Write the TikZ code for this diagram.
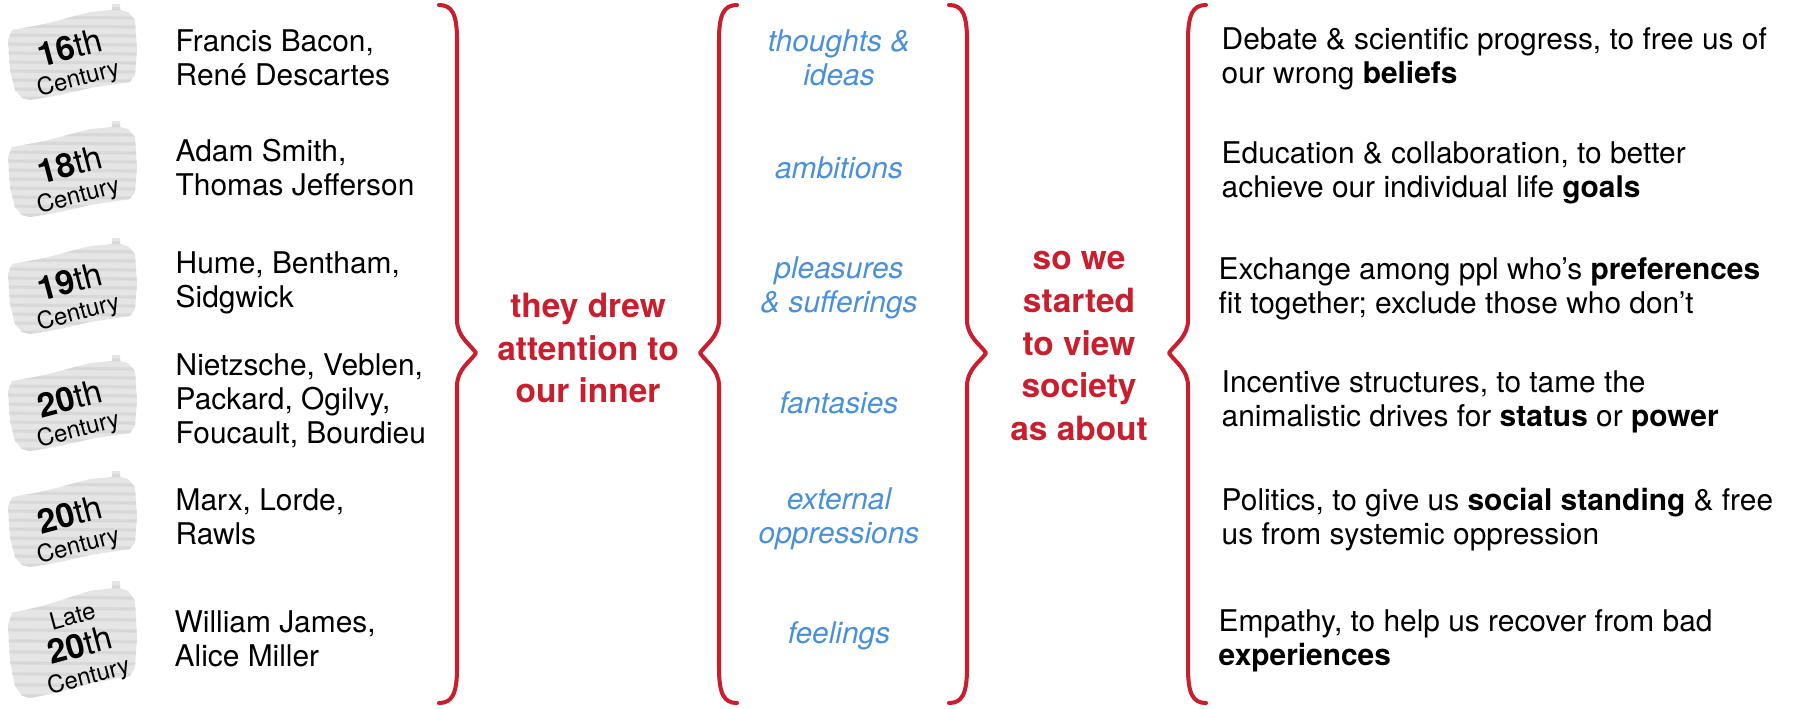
\documentclass[tikz,border=0pt]{standalone}
\usepackage{fontspec}
\setmainfont{TeX Gyre Heros}
\usetikzlibrary{positioning}

\definecolor{braceRed}{RGB}{200,30,45}
\definecolor{ideaBlue}{RGB}{74,144,217}
\definecolor{badgeGray}{RGB}{229,229,229}
\definecolor{streakGray}{RGB}{216,216,216}

\tikzset{
  thinkers/.style={anchor=west,align=left,inner sep=0pt,font=\fontsize{8.5}{9.7}\selectfont},
  remedy/.style={anchor=west,align=left,inner sep=0pt,font=\fontsize{8.5}{9.7}\selectfont},
  innerlife/.style={align=center,inner sep=0pt,text=ideaBlue,font=\fontsize{8.5}{9.7}\selectfont\itshape},
  claim/.style={align=center,inner sep=0pt,text=braceRed,font=\fontsize{9.5}{12.2}\selectfont\bfseries},
  badgetext/.style={align=center,inner sep=0pt,rotate=15,font=\fontsize{6.8}{8}\selectfont},
  bracket/.style={draw=braceRed,line width=1.15pt,line join=round,line cap=round},
}
\newcommand{\cent}[1]{{\fontsize{9.5}{9.5}\selectfont\textbf{#1}th}}

\begin{document}
\begin{tikzpicture}[x=0.01cm,y=-0.01cm]
\useasboundingbox (0,0) rectangle (1798,708);

% century badges: grey scribble + rotated label
\foreach \y/\s/\tx/\ty/\lbl [count=\i] in {
    54/1/74/63/{\cent{16}\\Century},
    171/1/74/180/{\cent{18}\\Century},
    288/1/74/297/{\cent{19}\\Century},
    405/1/74/414/{\cent{20}\\Century},
    521/1/74/530/{\cent{20}\\Century},
    642/1.22/81/648/{Late\\[1.5pt]\cent{20}\\Century}} {
  \begin{scope}[shift={(72,\y)},yscale=\s]
    \clip (-64,-14) -- (-60,-24) -- (-32,-29) -- (-12,-34) -- (18,-42) -- (40,-44)
      -- (40,-50) -- (48,-50) -- (48,-44) -- (56,-42) -- (63,-34) -- (65,-4)
      -- (63,21) -- (58,28) -- (18,34) -- (-12,41) -- (-42,46) -- (-50,44)
      -- (-57,36) -- (-62,16) -- cycle;
    \fill[badgeGray] (-70,-55) rectangle (70,55);
    \foreach \k in {-46,-37,...,46}
      \draw[streakGray,line width=0.9pt] (-70,\k) -- (70,\k+1);
  \end{scope}
  \node[badgetext] (badge\i) at (\tx,\ty) {\lbl};
}

% thinkers
\node[thinkers] (thinkers1) at (175,58) {Francis Bacon,\\René Descartes};
\node[thinkers] (thinkers2) at (175,168) {Adam Smith,\\Thomas Jefferson};
\node[thinkers] (thinkers3) at (175,283) {Hume, Bentham,\\Sidgwick};
\node[thinkers] (thinkers4) at (175,401) {Nietzsche, Veblen,\\Packard, Ogilvy,\\Foucault, Bourdieu};
\node[thinkers] (thinkers5) at (175,517) {Marx, Lorde,\\Rawls};
\node[thinkers] (thinkers6) at (174,639) {William James,\\Alice Miller};

% braces
\foreach \sx/\d in {457/1, 719/-1, 967/1, 1188/-1}
  \draw[bracket] ({\sx-18*\d},5) .. controls ({\sx-5*\d},5) and (\sx,14) .. (\sx,40)
    -- (\sx,320) .. controls (\sx,337) and ({\sx+14*\d},345) .. ({\sx+19*\d},353)
    .. controls ({\sx+14*\d},361) and (\sx,369) .. (\sx,386)
    -- (\sx,668) .. controls (\sx,694) and ({\sx-5*\d},703) .. ({\sx-18*\d},703);

\node[claim] (drew) at (588,348) {they drew\\attention to\\our inner};

% inner life
\node[innerlife] (inner1) at (839,58) {thoughts \&\\ideas};
\node[innerlife] (inner2) at (839,168) {ambitions};
\node[innerlife] (inner3) at (839,288) {pleasures\\\& sufferings};
\node[innerlife] (inner4) at (839,403) {fantasies};
\node[innerlife] (inner5) at (839,519) {external\\oppressions};
\node[innerlife] (inner6) at (839,636) {feelings};

\node[claim] (view) at (1079,346) {so we\\started\\to view\\society\\as about};

% what society is for
\node[remedy] (remedy1) at (1221,59) {Debate \& scientific progress, to free us of\\our wrong \textbf{beliefs}};
\node[remedy] (remedy2) at (1221,173) {Education \& collaboration, to better\\achieve our individual life \textbf{goals}};
\node[remedy] (remedy3) at (1218,289) {Exchange among ppl who’s \textbf{preferences}\\fit together; exclude those who don’t};
\node[remedy] (remedy4) at (1221,402) {Incentive structures, to tame the\\animalistic drives for \textbf{status} or \textbf{power}};
\node[remedy] (remedy5) at (1221,520) {Politics, to give us \textbf{social standing} \& free\\us from systemic oppression};
\node[remedy] (remedy6) at (1218,641) {Empathy, to help us recover from bad\\\textbf{experiences}};
\end{tikzpicture}
\end{document}
